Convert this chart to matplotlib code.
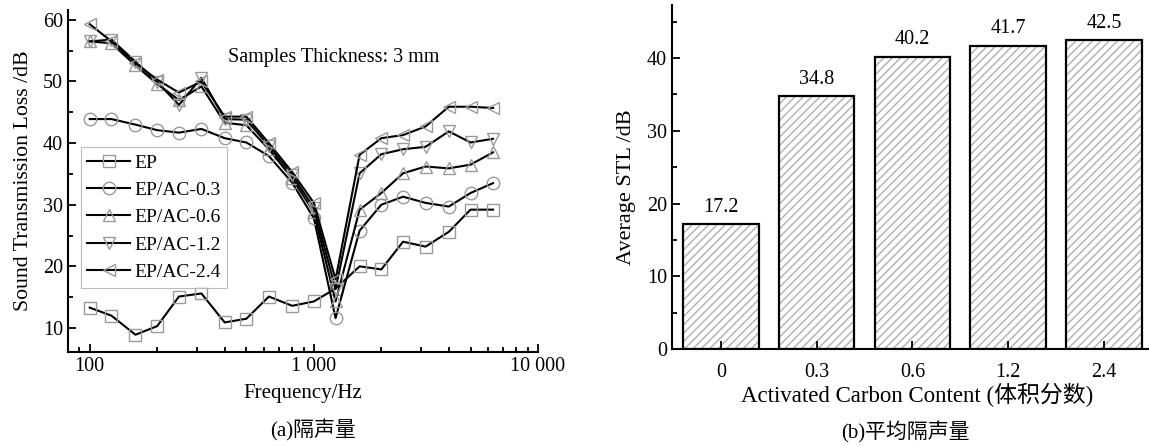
import matplotlib
matplotlib.use("Agg")
import matplotlib.pyplot as plt
from matplotlib.ticker import FixedLocator, MultipleLocator, NullFormatter

plt.rcParams['font.family'] = ['Liberation Serif', 'Noto Sans CJK SC']
plt.rcParams['mathtext.fontset'] = 'stix'

freq = [100, 125, 160, 200, 250, 315, 400, 500, 630, 800, 1000, 1250,
        1600, 2000, 2500, 3150, 4000, 5000, 6300]
stl_ep = [13.3, 12.0, 8.9, 10.3, 15.1, 15.6, 10.9, 11.5, 15.1, 13.6, 14.3, 16.4,
          20.0, 19.5, 24.0, 23.2, 25.6, 29.2, 29.2]
stl_ac03 = [43.9, 43.9, 43.0, 42.1, 41.7, 42.3, 40.8, 40.1, 37.9, 33.6, 27.8, 11.6,
            25.8, 30.0, 31.3, 30.3, 29.7, 31.9, 33.5]
stl_ac06 = [56.5, 56.2, 52.6, 49.6, 47.0, 49.2, 43.3, 42.9, 39.0, 34.3, 28.8, 14.3,
            29.2, 31.9, 35.1, 36.2, 35.9, 36.5, 38.5]
stl_ac12 = [56.5, 56.8, 53.2, 49.9, 46.2, 50.6, 43.9, 43.8, 39.5, 34.8, 29.5, 16.3,
            35.1, 38.2, 39.0, 39.4, 41.9, 40.1, 40.7]
stl_ac24 = [59.3, 56.5, 53.0, 50.3, 48.2, 50.0, 44.3, 44.3, 40.0, 35.3, 30.3, 17.9,
            38.1, 40.8, 41.3, 42.7, 45.9, 45.9, 45.7]
series_labels = ['EP', 'EP/AC-0.3', 'EP/AC-0.6', 'EP/AC-1.2', 'EP/AC-2.4']
series_markers = ['s', 'o', '^', 'v', '<']

categories = ['0', '0.3', '0.6', '1.2', '2.4']
avg_stl = [17.2, 34.8, 40.2, 41.7, 42.5]

fig = plt.figure(figsize=(11.49, 4.46), dpi=100)

# ---------- left panel ----------
ax1 = fig.add_axes([68/1149, 1-352/446, (538-68)/1149, (352-10)/446])
all_series = [stl_ep, stl_ac03, stl_ac06, stl_ac12, stl_ac24]
for vals, lab, mk in zip(all_series, series_labels, series_markers):
    ax1.plot(freq, vals, color='black', lw=1.5, marker=mk, markersize=9,
             markerfacecolor='none', markeredgecolor='#9a9a9a',
             markeredgewidth=1.0, label=lab)
ax1.set_xscale('log')
ax1.set_xlim(80, 10000)
ax1.set_ylim(6.1, 61.6)
ax1.xaxis.set_major_locator(FixedLocator([100, 1000, 10000]))
ax1.set_xticklabels(['100', '1 000', '10 000'])
ax1.xaxis.set_minor_locator(FixedLocator([200, 300, 400, 500, 600, 700, 800, 900,
                                          2000, 3000, 4000, 5000, 6000, 7000, 8000, 9000, 90]))
ax1.xaxis.set_minor_formatter(NullFormatter())
ax1.yaxis.set_minor_locator(MultipleLocator(5))
ax1.set_yticks([10, 20, 30, 40, 50, 60])
for s in ['top', 'right']:
    ax1.spines[s].set_visible(False)
for s in ['left', 'bottom']:
    ax1.spines[s].set_linewidth(1.5)
ax1.tick_params(which='both', direction='in', labelsize=14.5, width=1.3)
ax1.tick_params(which='major', length=6)
ax1.tick_params(which='minor', length=3.5)
ax1.set_xlabel('Frequency/Hz', fontsize=15, labelpad=6)
ax1.set_ylabel('Sound Transmission Loss /dB', fontsize=15.7)
ax1.yaxis.set_label_coords(-0.075, 0.5, transform=ax1.transAxes)
ax1.text(0.34, 0.86, 'Samples Thickness: 3 mm', transform=ax1.transAxes,
         fontsize=14.5, ha='left', va='center')
leg = ax1.legend(loc='upper left', bbox_to_anchor=(0.027, 0.599), fontsize=14,
                 frameon=True, fancybox=False, edgecolor='#aaaaaa',
                 handlelength=2.2, borderpad=0.35, labelspacing=0.5,
                 handletextpad=0.2, borderaxespad=0)
leg.get_frame().set_linewidth(0.8)
fig.text(313/1149, 1-430/446, '(a)隔声量', fontsize=15, ha='center', va='center')

# ---------- right panel ----------
ax2 = fig.add_axes([672/1149, 1-349/446, (1148-672)/1149, (349-5)/446])
xpos = list(range(len(categories)))
ax2.bar(xpos, avg_stl, width=0.79, color='white', edgecolor='#b0b0b0',
        hatch='////', linewidth=0)
ax2.bar(xpos, avg_stl, width=0.79, color='none', edgecolor='black', linewidth=1.6)
for x, v in zip(xpos, avg_stl):
    ax2.text(x, v + 1.0, f'{v:.1f}', ha='center', va='bottom', fontsize=14.5)
ax2.set_xlim(-0.51, 4.46)
ax2.set_ylim(0, 47.3)
ax2.set_xticks(xpos)
ax2.set_xticklabels(categories)
ax2.yaxis.set_major_locator(MultipleLocator(10))
ax2.yaxis.set_minor_locator(MultipleLocator(5))
for s in ['top', 'right']:
    ax2.spines[s].set_visible(False)
for s in ['left', 'bottom']:
    ax2.spines[s].set_linewidth(1.5)
ax2.tick_params(which='both', direction='in', labelsize=14.5, width=1.3)
ax2.tick_params(which='major', length=6)
ax2.tick_params(which='minor', length=3.5)
ax2.tick_params(axis='x', pad=10)
ax2.set_xlabel('Activated Carbon Content (体积分数)', fontsize=16.5)
ax2.xaxis.set_label_coords(0.515, -(395-349)/344, transform=ax2.transAxes)
ax2.xaxis.label.set_va('center')
ax2.set_ylabel('Average STL /dB', fontsize=16)
ax2.yaxis.set_label_coords(-0.076, 0.47, transform=ax2.transAxes)
fig.text(905/1149, 1-432/446, '(b)平均隔声量', fontsize=15, ha='center', va='center')

fig.savefig('out.png', dpi=100)
